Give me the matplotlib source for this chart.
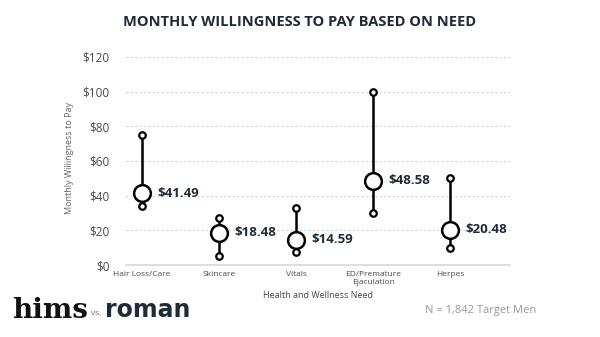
import matplotlib.pyplot as plt

# Data
categories = ["Hair Loss/Care", "Skincare", "Vitals", "ED/Premature\nEjaculation", "Herpes"]
mean_pay = [41.49, 18.48, 14.59, 48.58, 20.48]
low_pay = [34, 5, 7.5, 30, 10]
high_pay = [75, 27, 33, 100, 50]
y_ticks = [0, 20, 40, 60, 80, 100, 120]

DARK = "#1e2b38"
GREY = "#666666"

plt.rcParams["font.family"] = ["Open Sans", "DejaVu Sans"]

fig = plt.figure(figsize=(6, 3.37), dpi=100)
ax = fig.add_axes([0.21, 0.2136, 0.64, 0.638])

x = list(range(len(categories)))

# whiskers
ax.vlines(x, low_pay, high_pay, color="black", lw=1.8, zorder=2)
ax.scatter(x, low_pay, s=22, facecolor="white", edgecolor="black", lw=1.6, zorder=3)
ax.scatter(x, high_pay, s=22, facecolor="white", edgecolor="black", lw=1.6, zorder=3)
ax.scatter(x, mean_pay, s=145, facecolor="white", edgecolor="black", lw=1.8, zorder=4)

for xi, m in zip(x, mean_pay):
    ax.annotate(f"${m:.2f}", (xi, m), xytext=(11, 0), textcoords="offset points",
                va="center", ha="left", fontsize=9.5, fontweight="bold", color=DARK)

ax.set_xlim(-0.21, 4.78)
ax.set_ylim(0, 124)
ax.set_yticks(y_ticks)
ax.set_yticklabels([f"${v}" for v in y_ticks])
ax.set_xticks(x)
ax.set_xticklabels(categories)
ax.tick_params(axis="y", length=0, labelsize=8.5, labelcolor="#4a4a4a", pad=12)
ax.tick_params(axis="x", length=0, labelsize=6, labelcolor="#4a4a4a", pad=4)

ax.grid(axis="y", color="#c8c8c8", ls=(0, (1.5, 2.5)), lw=0.8)
ax.set_axisbelow(True)
for side in ["top", "right", "left"]:
    ax.spines[side].set_visible(False)
ax.spines["bottom"].set_color("#d4d8e0")
ax.spines["bottom"].set_linewidth(1.2)

ax.set_ylabel("Monthly Willingness to Pay", fontsize=6.5, color=GREY, labelpad=6)
ax.set_xlabel("Health and Wellness Need", fontsize=6.5, color="#444444", labelpad=4)

fig.text(0.5, 0.935, "MONTHLY WILLINGNESS TO PAY BASED ON NEED", ha="center", va="center",
         fontsize=10.5, fontweight="bold", color=DARK)

# footer
fig.text(0.02, 0.08, "hims", family="DejaVu Serif", fontsize=20, fontweight="bold",
         color="#111111", va="center", ha="left")
fig.text(0.152, 0.07, "vs.", fontsize=6, color=GREY, va="center", ha="left")
fig.text(0.175, 0.08, "roman", family="DejaVu Sans", fontsize=17, fontweight="bold",
         color=DARK, va="center", ha="left")
fig.text(0.893, 0.08, "N = 1,842 Target Men", fontsize=8, color="#999999",
         va="center", ha="right")

fig.savefig("out.png", dpi=100, facecolor="white")
